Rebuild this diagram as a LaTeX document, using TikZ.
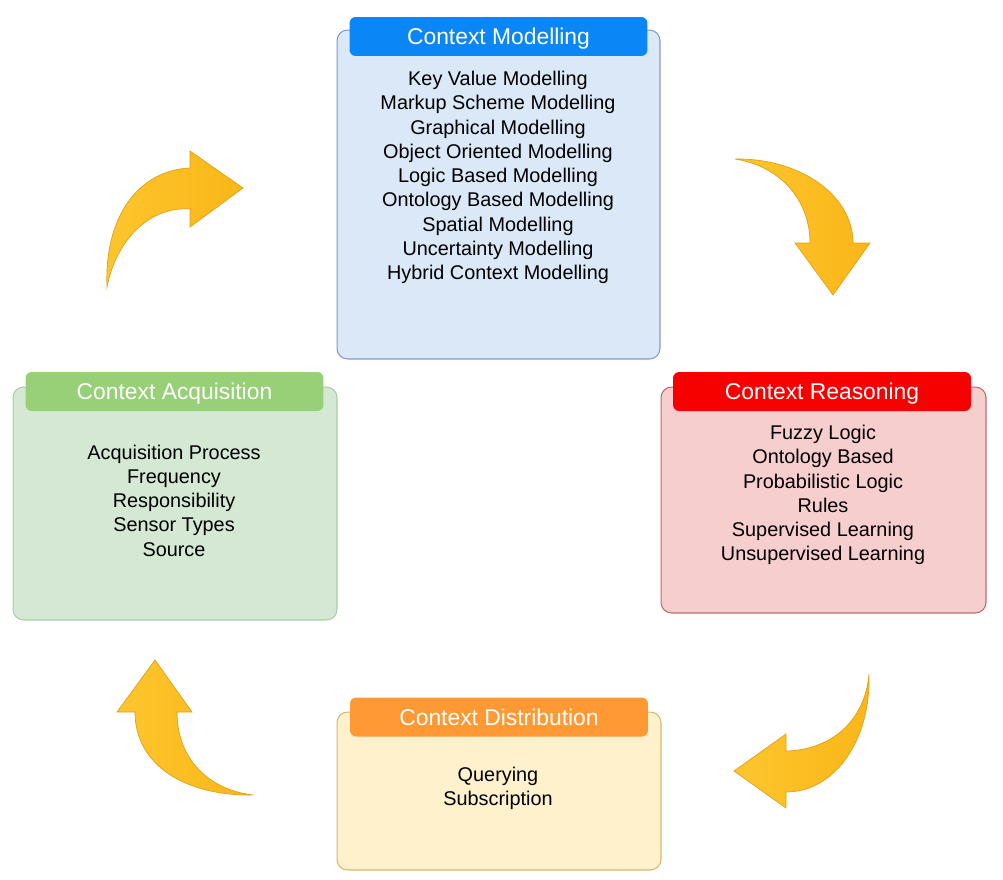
\documentclass[tikz,border=0pt]{standalone}
\usepackage{fontspec}
\setmainfont{Liberation Sans}
\usepackage{xcolor}
\definecolor{ModelBlue}{HTML}{0A87F5}
\definecolor{ModelFill}{HTML}{DAE8F7}
\definecolor{ModelEdge}{HTML}{7E9CCB}
\definecolor{ReasonRed}{HTML}{F70000}
\definecolor{ReasonFill}{HTML}{F7CECE}
\definecolor{ReasonEdge}{HTML}{C46866}
\definecolor{DistOrange}{HTML}{FF9933}
\definecolor{DistFill}{HTML}{FFF1CC}
\definecolor{DistEdge}{HTML}{D9B66A}
\definecolor{AcqGreen}{HTML}{97D077}
\definecolor{AcqFill}{HTML}{D5E8D4}
\definecolor{AcqEdge}{HTML}{A9CDA8}
\definecolor{GoldLight}{HTML}{FDC62E}
\definecolor{GoldDark}{HTML}{F9B618}
\definecolor{GoldEdge}{HTML}{E0A01A}
\usepackage{tikz}
\usetikzlibrary{positioning}

\begin{document}
\begin{tikzpicture}[x=0.02cm,y=-0.02cm]
\tikzset{
  phasebox/.style={rounded corners=6pt,line width=.6pt,inner sep=0pt},
  phasehead/.style={rounded corners=3.5pt,inner sep=0pt,minimum width=5.96cm,minimum height=.78cm,
    text=white,font=\fontsize{13}{15}\selectfont,text height=10.6pt,text depth=1.1pt},
  itemlist/.style={align=center,inner sep=0pt,font=\fontsize{11.3}{13.8}\selectfont},
  bentarrow/.style={left color=GoldLight,right color=GoldDark,draw=GoldEdge,line width=.4pt,line join=miter}
}
\useasboundingbox (0,0) rectangle (1003,879);

% four phases of the life cycle, body first and header on top
\node[phasebox,draw=ModelEdge,fill=ModelFill,minimum width=6.46cm,minimum height=6.58cm] (model) at (498.5,194.5) {};
\node[phasebox,draw=ReasonEdge,fill=ReasonFill,minimum width=6.5cm,minimum height=4.52cm] (reason) at (823.5,500) {};
\node[phasebox,draw=DistEdge,fill=DistFill,minimum width=6.48cm,minimum height=3.16cm] (dist) at (499,791) {};
\node[phasebox,draw=AcqEdge,fill=AcqFill,minimum width=6.48cm,minimum height=4.66cm] (acq) at (175,503.5) {};

\node[phasehead,fill=ModelBlue] (modelhead) at (498.5,36.5) {Context Modelling};
\node[phasehead,fill=ReasonRed] (reasonhead) at (822,391.5) {Context Reasoning};
\node[phasehead,fill=DistOrange] (disthead) at (499,717) {Context Distribution};
\node[phasehead,fill=AcqGreen] (acqhead) at (174.5,391.5) {Context Acquisition};

% techniques listed in each phase
\node[itemlist] (modellist) at (498,177.5) {Key Value Modelling\\Markup Scheme Modelling\\Graphical Modelling\\
  Object Oriented Modelling\\Logic Based Modelling\\Ontology Based Modelling\\Spatial Modelling\\
  Uncertainty Modelling\\Hybrid Context Modelling};
\node[itemlist] (reasonlist) at (823,495) {Fuzzy Logic\\Ontology Based\\Probabilistic Logic\\Rules\\
  Supervised Learning\\Unsupervised Learning};
\node[itemlist] (distlist) at (498,788) {Querying\\Subscription};
\node[itemlist] (acqlist) at (174,500.5) {Acquisition Process\\Frequency\\Responsibility\\Sensor Types\\Source};

% curved block arrows closing the cycle
\draw[bentarrow] (107,287) .. controls (104,215) and (140,170) .. (190,168) -- (190,151) -- (243,188)
  -- (190,227) -- (190,209) .. controls (150,206) and (116,240) .. cycle;
\draw[bentarrow] (735,159) .. controls (800,158) and (853,195) .. (853,243) -- (870,243) -- (833,295)
  -- (795,243) -- (810,243) .. controls (810,200) and (780,166) .. cycle;
\draw[bentarrow] (869,674) .. controls (871,740) and (835,792) .. (786,792) -- (786,808) -- (734,771)
  -- (786,734) -- (786,751) .. controls (830,750) and (865,722) .. cycle;
\draw[bentarrow] (253,795) .. controls (185,796) and (135,765) .. (135,712) -- (117,712) -- (155,660)
  -- (192,712) -- (177,712) .. controls (177,760) and (210,790) .. cycle;
\end{tikzpicture}
\end{document}
